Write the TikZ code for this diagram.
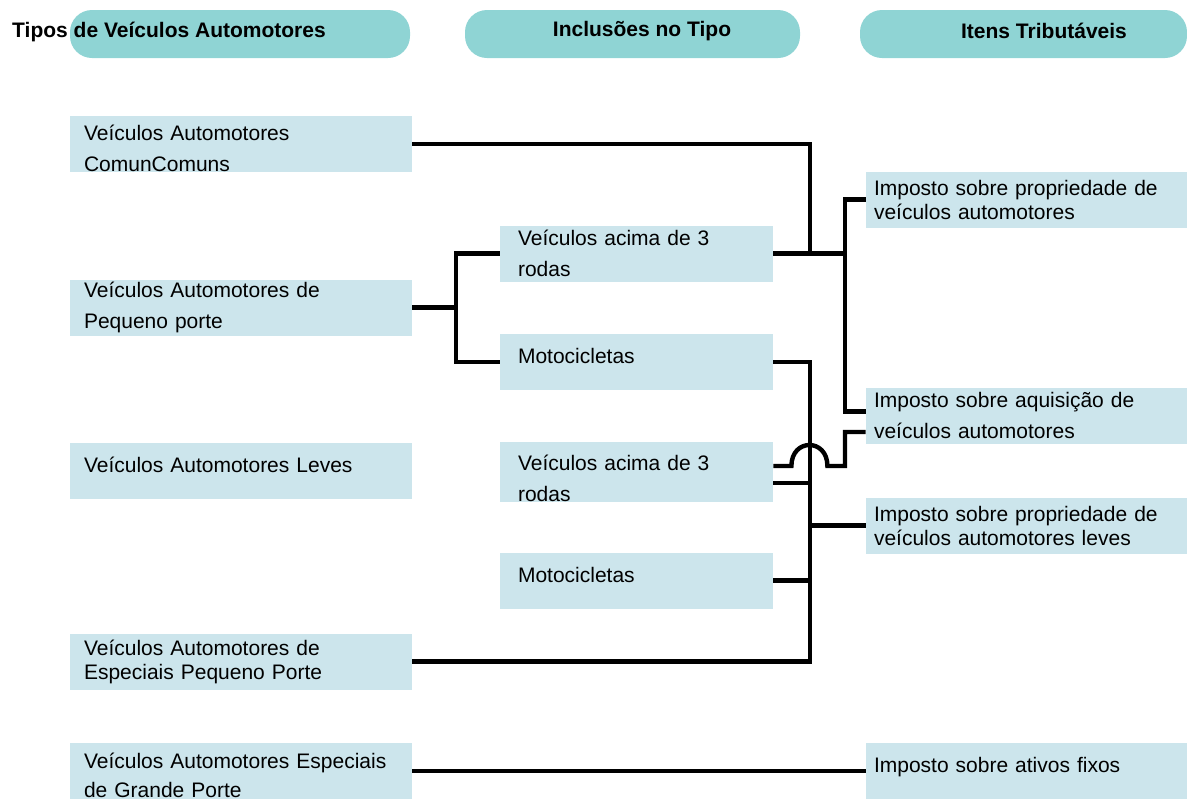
\documentclass[tikz,border=0pt]{standalone}
\usepackage{fontspec}
\setmainfont{Liberation Sans}
\usepackage{xcolor}
\usepackage{tikz}
\usetikzlibrary{calc}
\definecolor{pill}{HTML}{8FD4D4}
\definecolor{boxc}{HTML}{CCE5EC}
\tikzset{
  pillbox/.style={fill=pill, rounded corners=11pt, minimum height=24pt, inner sep=0pt},
  ttl/.style={font=\fontsize{10.5}{12}\selectfont\bfseries, inner sep=0pt},
  lbox/.style={fill=boxc, minimum width=171pt, minimum height=28pt, inner xsep=7pt, inner ysep=0pt, text width=157pt, align=left},
  mbox/.style={fill=boxc, minimum width=136.5pt, minimum height=28pt, inner xsep=9pt, inner ysep=0pt, text width=118.5pt, align=left},
  rbox/.style={fill=boxc, minimum width=160.5pt, minimum height=28pt, inner xsep=4pt, inner ysep=0pt, text width=152.5pt, align=left},
  one/.style={text depth=6pt},
  sink/.style={text height=#1},
  tight/.style={font=\fontsize{10.5}{12}\selectfont},
  link/.style={draw=black, line width=2.2pt},
}

\begin{document}
\begin{tikzpicture}[x=0.5pt, y=-0.5pt, font=\fontsize{10.5}{15.5}\selectfont]
  \useasboundingbox (0,0) rectangle (1187,799);
  % column heads
  \node[pillbox, minimum width=170pt] (p1) at (240,34) {};
  \node[pillbox, minimum width=167.5pt] (p2) at (632.5,34) {};
  \node[pillbox, minimum width=163.5pt] (p3) at (1023.5,34) {};
  \node[ttl] (t1) at (169,32) {Tipos de Veículos Automotores};
  \node[ttl] (t2) at (642,31) {Inclusões no Tipo};
  \node[ttl] (t3) at (1044,31) {Itens Tributáveis};
  % types
  \node[lbox, sink=12pt] (A) at (241,144) {Veículos Automotores\\ComunComuns};
  \node[lbox] (B) at (241,307.5) {Veículos Automotores de\\Pequeno porte};
  \node[lbox, one] (C) at (241,470.5) {Veículos Automotores Leves};
  \node[lbox, tight] (D) at (241,661.5) {Veículos Automotores de\\Especiais Pequeno Porte};
  \node[lbox, sink=12pt] (E) at (241,771) {Veículos Automotores Especiais\\[-1pt]de Grande Porte};
  % inclusions
  \node[mbox] (M1) at (636.5,253.5) {Veículos acima de 3\\rodas};
  \node[mbox, one] (M2) at (636.5,362) {Motocicletas};
  \node[mbox, sink=14pt] (M3) at (636.5,472) {Veículos acima de 3\\rodas};
  \node[mbox, one] (M4) at (636.5,580.5) {Motocicletas};
  % taxes
  \node[rbox, tight] (R1) at (1026.5,199.5) {Imposto sobre propriedade de\\veículos automotores};
  \node[rbox] (R2) at (1026.5,415.5) {Imposto sobre aquisição de\\veículos automotores};
  \node[rbox, tight] (R3) at (1026.5,525.5) {Imposto sobre propriedade de\\veículos automotores leves};
  \node[rbox, one] (R4) at (1026.5,771) {Imposto sobre ativos fixos};
  % buses
  \coordinate (busL) at (456,0);
  \coordinate (busM) at (810,0);
  \coordinate (busR) at (845,0);
  \coordinate (r2a) at ($(R2.west)+(0,-4)$);
  \coordinate (r2b) at ($(R2.west)+(0,16.5)$);
  \coordinate (m3a) at ($(M3.east)+(0,-6)$);
  \coordinate (m3b) at ($(M3.east)+(0,11)$);
  % connectors
  \draw[link] (B.east) -- (busL |- B.east);
  \draw[link] (M1.west) -| (busL |- M2.west) -- (M2.west);
  \draw[link] (A.east) -| (busM |- M1.east);
  \draw[link] (M1.east) -- (busR |- M1.east);
  \draw[link] (R1.west) -| (busR |- r2a) -- (r2a);
  \draw[link] (M2.east) -| (busM |- D.east) -- (D.east);
  \draw[link] (m3a) -- ++(18,0) .. controls +(0,-28) and +(0,-28) .. ++(36,0) -| (busR |- r2b) -- (r2b); % hop over
  \draw[link] (m3b) -- (busM |- m3b);
  \draw[link] (M4.east) -- (busM |- M4.east);
  \draw[link] (R3.west) -- (busM |- R3.west);
  \draw[link] (E.east) -- (R4.west);
\end{tikzpicture}
\end{document}
